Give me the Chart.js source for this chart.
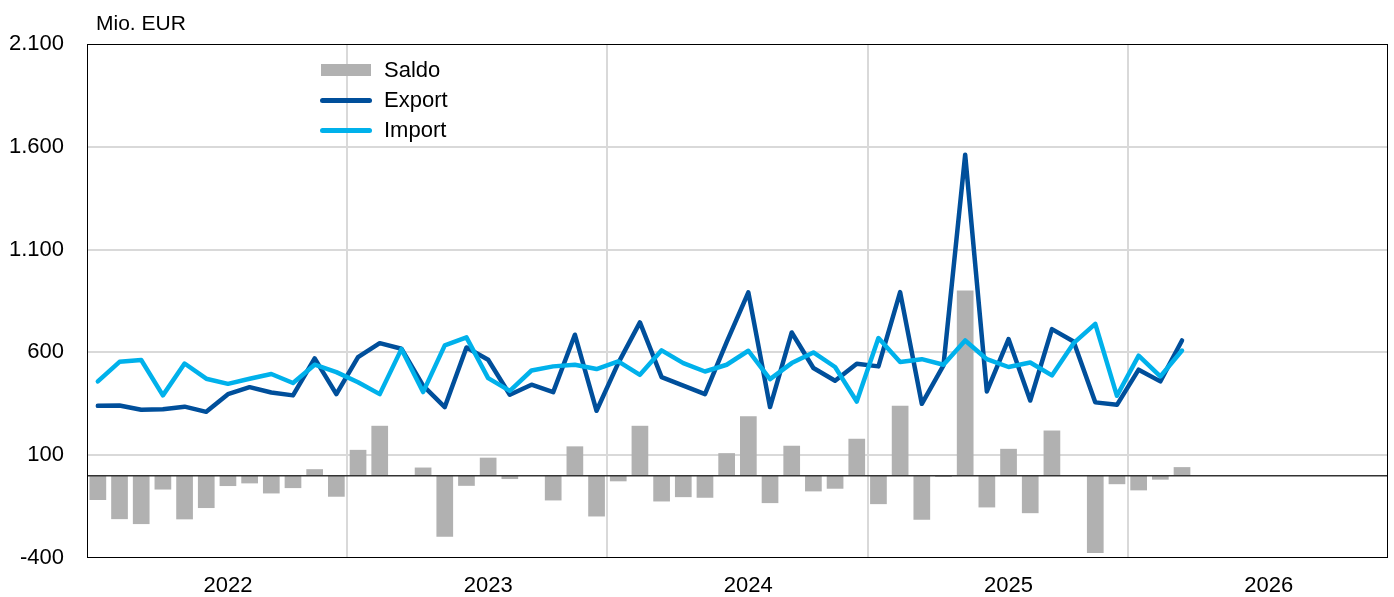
<!DOCTYPE html>
<html>
<head>
<meta charset="utf-8">
<script src="https://cdn.jsdelivr.net/npm/chart.js@4.4.1/dist/chart.umd.min.js"></script>
<style>
    body { margin: 0; background: #fff; font-family: "Liberation Sans", Arial, sans-serif; }
    #wrap { position: relative; width: 1394px; height: 597px; }
    #unit { position: absolute; left: 96px; top: 12px; font-size: 21px; line-height: 21px; color: #000; }
    #legend { position: absolute; left: 320px; top: 59px; }
    .legend-row { display: flex; align-items: center; height: 22px; margin-bottom: 8px; font-size: 22px; line-height: 22px; color: #000; }
    .legend-swatch { width: 64px; display: flex; align-items: center; }
</style>
</head>
<body>
<div id="wrap">
    <canvas id="tradeCanvas" width="1394" height="597"></canvas>
    <div id="unit">Mio. EUR</div>
    <div id="legend"></div>
</div>
<script>
const YEARS = ['2022', '2023', '2024', '2025', '2026'];

// Monthly values Jan 2022 - Mar 2026, in Mio. EUR
const exportValues = [
    340, 342, 321, 323, 336, 311, 397, 431, 405, 391, 571, 397,
    577, 645, 618, 438, 334, 624, 564, 394, 443, 407, 686, 316,
    548, 746, 480, 438, 397, 650, 892, 334, 697, 524, 462, 545,
    532, 893, 350, 537, 1561, 410, 665, 366, 713, 653, 357, 345,
    516, 459, 658
];
const importValues = [
    459, 554, 563, 391, 546, 472, 447, 472, 495, 451, 540, 504,
    455, 397, 616, 407, 634, 673, 475, 413, 512, 532, 540, 519,
    556, 491, 610, 548, 507, 540, 608, 470, 548, 600, 529, 361,
    670, 553, 567, 540, 658, 567, 529, 551, 488, 645, 739, 389,
    584, 483, 609
];
const saldoValues = [
    -118, -211, -235, -67, -212, -157, -50, -37, -86, -60, 32, -102,
    126, 243, 0, 40, -297, -49, 88, -16, null, -120, 143, -198,
    -27, 243, -125, -104, -107, 110, 289, -133, 146, -76, -63, 180,
    -138, 340, -214, -6, 901, -154, 131, -182, 220, 0, -376, -41,
    -71, -19, 42
];

const monthLabels = YEARS.flatMap(year =>
    Array.from({ length: 12 }, (_, m) => `${year}-${String(m + 1).padStart(2, '0')}`)
);

const GRID_COLOR = '#d9d9d9';

// Plot frame and zero line
const framePlugin = {
    id: 'frame',
    afterDatasetDraw(chart, args) {
        if (args.index !== 0) return;
        const { ctx, chartArea } = chart;
        const y0 = chart.scales.y.getPixelForValue(0);
        ctx.save();
        ctx.strokeStyle = '#333';
        ctx.lineWidth = 1.5;
        ctx.beginPath();
        ctx.moveTo(chartArea.left, y0);
        ctx.lineTo(chartArea.right, y0);
        ctx.stroke();
        ctx.restore();
    },
    afterDraw(chart) {
        const { ctx, chartArea } = chart;
        ctx.save();
        ctx.strokeStyle = '#000';
        ctx.lineWidth = 1;
        ctx.strokeRect(chartArea.left + 0.5, chartArea.top + 0.5,
            chartArea.right - chartArea.left - 1, chartArea.bottom - chartArea.top - 1);
        ctx.restore();
    }
};

Chart.defaults.font.family = '"Liberation Sans", Arial, sans-serif';
Chart.defaults.font.size = 22;
Chart.defaults.color = '#000';

const ctx = document.getElementById('tradeCanvas').getContext('2d');
const tradeChart = new Chart(ctx, {
    type: 'bar',
    data: {
        labels: monthLabels,
        datasets: [
            {
                type: 'bar',
                label: 'Saldo',
                data: saldoValues,
                backgroundColor: '#b1b1b1',
                categoryPercentage: 1,
                barPercentage: 0.77,
                order: 3
            },
            {
                type: 'line',
                label: 'Export',
                data: exportValues,
                borderColor: '#004f9b',
                backgroundColor: '#004f9b',
                borderWidth: 4.5,
                pointRadius: 0,
                tension: 0,
                borderJoinStyle: 'round',
                borderCapStyle: 'round',
                order: 2
            },
            {
                type: 'line',
                label: 'Import',
                data: importValues,
                borderColor: '#00b1eb',
                backgroundColor: '#00b1eb',
                borderWidth: 4.5,
                pointRadius: 0,
                tension: 0,
                borderJoinStyle: 'round',
                borderCapStyle: 'round',
                order: 1
            }
        ]
    },
    options: {
        responsive: false,
        animation: false,
        devicePixelRatio: 1,
        locale: 'de-DE',
        layout: { padding: { top: 44, right: 6, left: 0, bottom: 0 } },
        plugins: {
            legend: { display: false },
            tooltip: { enabled: false }
        },
        scales: {
            x: {
                offset: true,
                border: { display: false },
                grid: {
                    offset: true,
                    drawTicks: false,
                    lineWidth: 2,
                    color: c => (c.index % 12 === 0 && c.index !== 0 && c.index !== 60) ? GRID_COLOR : 'transparent'
                },
                ticks: {
                    autoSkip: false,
                    minRotation: 0,
                    maxRotation: 0,
                    padding: 15,
                    callback(value, index) {
                        return index % 12 === 6 ? this.getLabelForValue(value).slice(0, 4) : '';
                    }
                },
                afterFit(scale) { scale.height = 39; }
            },
            y: {
                min: -400,
                max: 2100,
                border: { display: false },
                grid: {
                    drawTicks: false,
                    lineWidth: 2,
                    color: c => (c.tick && (c.tick.value === -400 || c.tick.value === 2100)) ? 'transparent' : GRID_COLOR
                },
                ticks: {
                    stepSize: 500,
                    padding: 23
                },
                afterFit(scale) { scale.width = 87; }
            }
        }
    },
    plugins: [framePlugin]
});

// HTML legend built from the datasets
function renderLegend(chart) {
    const container = document.getElementById('legend');
    container.innerHTML = '';
    chart.data.datasets.forEach(ds => {
        const row = document.createElement('div');
        row.classList.add('legend-row');
        const swatchBox = document.createElement('div');
        swatchBox.classList.add('legend-swatch');
        const swatch = document.createElement('div');
        if (ds.type === 'bar') {
            swatch.style.cssText = `width:50px;height:12px;margin-left:1px;background:${ds.backgroundColor}`;
        } else {
            swatch.style.cssText = `width:52px;height:5px;border-radius:3px;background:${ds.borderColor}`;
        }
        swatchBox.appendChild(swatch);
        const text = document.createElement('span');
        text.textContent = ds.label;
        row.appendChild(swatchBox);
        row.appendChild(text);
        container.appendChild(row);
    });
}
renderLegend(tradeChart);
</script>
</body>
</html>
